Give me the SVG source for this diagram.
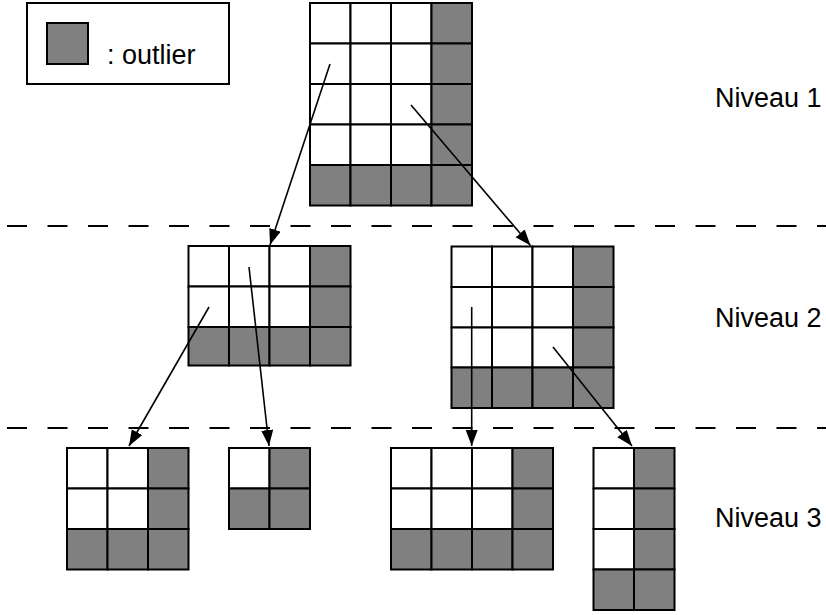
<svg xmlns="http://www.w3.org/2000/svg" width="826" height="615" viewBox="0 0 826 615">
<style>
.w{fill:#ffffff;stroke:#000;stroke-width:2}
.g{fill:#808080;stroke:#000;stroke-width:2}
.t{font-family:"Liberation Sans",Arial,sans-serif;font-size:27px;fill:#000}
.dash{stroke:#000;stroke-width:2;stroke-dasharray:20 20.5;fill:none}
.arr{stroke:#000;stroke-width:1.6;fill:none;marker-end:url(#ah)}
</style>
<defs>
<marker id="ah" markerUnits="userSpaceOnUse" markerWidth="18" markerHeight="14" refX="16" refY="6" orient="auto">
<path d="M0,0 L16,6 L0,12 z" fill="#000"/>
</marker>
</defs>
<rect width="826" height="615" fill="#fff"/>
<g id="legend">
<rect x="27" y="3" width="202" height="81" fill="#fff" stroke="#000" stroke-width="2"/>
<rect class="g" x="47" y="23" width="41" height="41"/>
<text class="t" x="107" y="64">: outlier</text>
</g>
<g id="separators">
<line class="dash" x1="7" y1="226" x2="826" y2="226"/>
<line class="dash" x1="7" y1="428" x2="826" y2="428"/>
</g>
<g id="labels">
<text class="t" x="715" y="107">Niveau 1</text>
<text class="t" x="715" y="327">Niveau 2</text>
<text class="t" x="715" y="527">Niveau 3</text>
</g>
<g id="n1">
<rect class="w" x="310" y="3" width="40.5" height="40.5"/><rect class="w" x="350.5" y="3" width="40.5" height="40.5"/><rect class="w" x="391" y="3" width="40.5" height="40.5"/><rect class="g" x="431.5" y="3" width="40.5" height="40.5"/>
<rect class="w" x="310" y="43.5" width="40.5" height="40.5"/><rect class="w" x="350.5" y="43.5" width="40.5" height="40.5"/><rect class="w" x="391" y="43.5" width="40.5" height="40.5"/><rect class="g" x="431.5" y="43.5" width="40.5" height="40.5"/>
<rect class="w" x="310" y="84" width="40.5" height="40.5"/><rect class="w" x="350.5" y="84" width="40.5" height="40.5"/><rect class="w" x="391" y="84" width="40.5" height="40.5"/><rect class="g" x="431.5" y="84" width="40.5" height="40.5"/>
<rect class="w" x="310" y="124.5" width="40.5" height="40.5"/><rect class="w" x="350.5" y="124.5" width="40.5" height="40.5"/><rect class="w" x="391" y="124.5" width="40.5" height="40.5"/><rect class="g" x="431.5" y="124.5" width="40.5" height="40.5"/>
<rect class="g" x="310" y="165" width="40.5" height="40.5"/><rect class="g" x="350.5" y="165" width="40.5" height="40.5"/><rect class="g" x="391" y="165" width="40.5" height="40.5"/><rect class="g" x="431.5" y="165" width="40.5" height="40.5"/>
</g>
<g id="n2a">
<rect class="w" x="188.5" y="246" width="40.5" height="40.5"/><rect class="w" x="229" y="246" width="40.5" height="40.5"/><rect class="w" x="269.5" y="246" width="40.5" height="40.5"/><rect class="g" x="310" y="246" width="40.5" height="40.5"/>
<rect class="w" x="188.5" y="286.5" width="40.5" height="40.5"/><rect class="w" x="229" y="286.5" width="40.5" height="40.5"/><rect class="w" x="269.5" y="286.5" width="40.5" height="40.5"/><rect class="g" x="310" y="286.5" width="40.5" height="40.5"/>
<rect class="g" x="188.5" y="327" width="40.5" height="38.5"/><rect class="g" x="229" y="327" width="40.5" height="38.5"/><rect class="g" x="269.5" y="327" width="40.5" height="38.5"/><rect class="g" x="310" y="327" width="40.5" height="38.5"/>
</g>
<g id="n2b">
<rect class="w" x="451.5" y="246.5" width="40.5" height="40.5"/><rect class="w" x="492" y="246.5" width="40.5" height="40.5"/><rect class="w" x="532.5" y="246.5" width="40.5" height="40.5"/><rect class="g" x="573" y="246.5" width="40.5" height="40.5"/>
<rect class="w" x="451.5" y="287" width="40.5" height="40.5"/><rect class="w" x="492" y="287" width="40.5" height="40.5"/><rect class="w" x="532.5" y="287" width="40.5" height="40.5"/><rect class="g" x="573" y="287" width="40.5" height="40.5"/>
<rect class="w" x="451.5" y="327.5" width="40.5" height="40"/><rect class="w" x="492" y="327.5" width="40.5" height="40"/><rect class="w" x="532.5" y="327.5" width="40.5" height="40"/><rect class="g" x="573" y="327.5" width="40.5" height="40"/>
<rect class="g" x="451.5" y="367.5" width="40.5" height="40.5"/><rect class="g" x="492" y="367.5" width="40.5" height="40.5"/><rect class="g" x="532.5" y="367.5" width="40.5" height="40.5"/><rect class="g" x="573" y="367.5" width="40.5" height="40.5"/>
</g>
<g id="n3a">
<rect class="w" x="67" y="448" width="40.5" height="40.5"/><rect class="w" x="107.5" y="448" width="40.5" height="40.5"/><rect class="g" x="148" y="448" width="40.5" height="40.5"/>
<rect class="w" x="67" y="488.5" width="40.5" height="40.5"/><rect class="w" x="107.5" y="488.5" width="40.5" height="40.5"/><rect class="g" x="148" y="488.5" width="40.5" height="40.5"/>
<rect class="g" x="67" y="529" width="40.5" height="40.5"/><rect class="g" x="107.5" y="529" width="40.5" height="40.5"/><rect class="g" x="148" y="529" width="40.5" height="40.5"/>
</g>
<g id="n3b">
<rect class="w" x="229" y="448" width="40.5" height="40.5"/><rect class="g" x="269.5" y="448" width="40.5" height="40.5"/>
<rect class="g" x="229" y="488.5" width="40.5" height="40.5"/><rect class="g" x="269.5" y="488.5" width="40.5" height="40.5"/>
</g>
<g id="n3c">
<rect class="w" x="391" y="448" width="40.5" height="40.5"/><rect class="w" x="431.5" y="448" width="40.5" height="40.5"/><rect class="w" x="472" y="448" width="40.5" height="40.5"/><rect class="g" x="512.5" y="448" width="40.5" height="40.5"/>
<rect class="w" x="391" y="488.5" width="40.5" height="40.5"/><rect class="w" x="431.5" y="488.5" width="40.5" height="40.5"/><rect class="w" x="472" y="488.5" width="40.5" height="40.5"/><rect class="g" x="512.5" y="488.5" width="40.5" height="40.5"/>
<rect class="g" x="391" y="529" width="40.5" height="40.5"/><rect class="g" x="431.5" y="529" width="40.5" height="40.5"/><rect class="g" x="472" y="529" width="40.5" height="40.5"/><rect class="g" x="512.5" y="529" width="40.5" height="40.5"/>
</g>
<g id="n3d">
<rect class="w" x="593.5" y="448" width="40.5" height="40.5"/><rect class="g" x="634" y="448" width="40.5" height="40.5"/>
<rect class="w" x="593.5" y="488.5" width="40.5" height="40.5"/><rect class="g" x="634" y="488.5" width="40.5" height="40.5"/>
<rect class="w" x="593.5" y="529" width="40.5" height="40.5"/><rect class="g" x="634" y="529" width="40.5" height="40.5"/>
<rect class="g" x="593.5" y="569.5" width="40.5" height="40.5"/><rect class="g" x="634" y="569.5" width="40.5" height="40.5"/>
</g>
<g id="connectors">
<line class="arr" x1="330" y1="64" x2="270" y2="245"/>
<line class="arr" x1="411" y1="105" x2="530.5" y2="245.5"/>
<line class="arr" x1="209" y1="307" x2="129" y2="446"/>
<line class="arr" x1="249" y1="267" x2="269" y2="446"/>
<line class="arr" x1="471.7" y1="307" x2="471.7" y2="446"/>
<line class="arr" x1="553" y1="347" x2="632" y2="446"/>
</g>
</svg>
